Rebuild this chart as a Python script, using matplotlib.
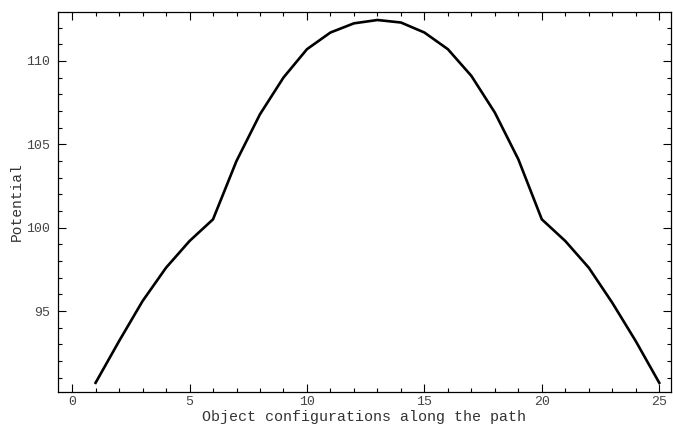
import matplotlib.pyplot as plt
from matplotlib.ticker import MultipleLocator
import numpy as np

# configuration index along the path and potential value
config = [1, 2, 3, 4, 5, 6, 7, 8, 9, 10, 11, 12, 13,
          14, 15, 16, 17, 18, 19, 20, 21, 22, 23, 24, 25]
potential = [90.7, 93.2, 95.6, 97.6, 99.2, 100.5, 104.0, 106.8, 109.0, 110.7, 111.7, 112.25, 112.45,
             112.3, 111.7, 110.7, 109.1, 106.9, 104.1, 100.5, 99.2, 97.6, 95.5, 93.2, 90.7]

plt.rcParams['font.family'] = ['Liberation Mono', 'DejaVu Sans Mono']

fig = plt.figure(figsize=(6.73, 4.30), dpi=100)
ax = fig.add_axes([0.0862, 0.0884, 0.9108, 0.8837])

ax.plot(config, potential, color='black', linewidth=1.9)

ax.set_xlim(-0.6, 25.5)
ax.set_ylim(90.15, 112.93)
ax.xaxis.set_major_locator(MultipleLocator(5))
ax.xaxis.set_minor_locator(MultipleLocator(1))
ax.yaxis.set_major_locator(MultipleLocator(5))
ax.yaxis.set_minor_locator(MultipleLocator(1))
ax.tick_params(which='both', direction='in', top=True, right=True,
               labelsize=9.5, colors='black', width=0.8)
ax.tick_params(which='major', length=6)
ax.tick_params(which='minor', length=3)
ax.tick_params(axis='x', pad=3)
ax.tick_params(axis='y', pad=6)
ax.tick_params(axis='both', labelcolor='#444444')
for s in ax.spines.values():
    s.set_linewidth(0.9)

ax.set_xlabel('Object configurations along the path', fontsize=10.8, color='#333333')
ax.set_ylabel('Potential', fontsize=10.5, color='#333333')
ax.xaxis.set_label_coords(0.5, -0.048)
ax.yaxis.set_label_coords(-0.056, 0.5)

fig.savefig('out.png', dpi=100)
